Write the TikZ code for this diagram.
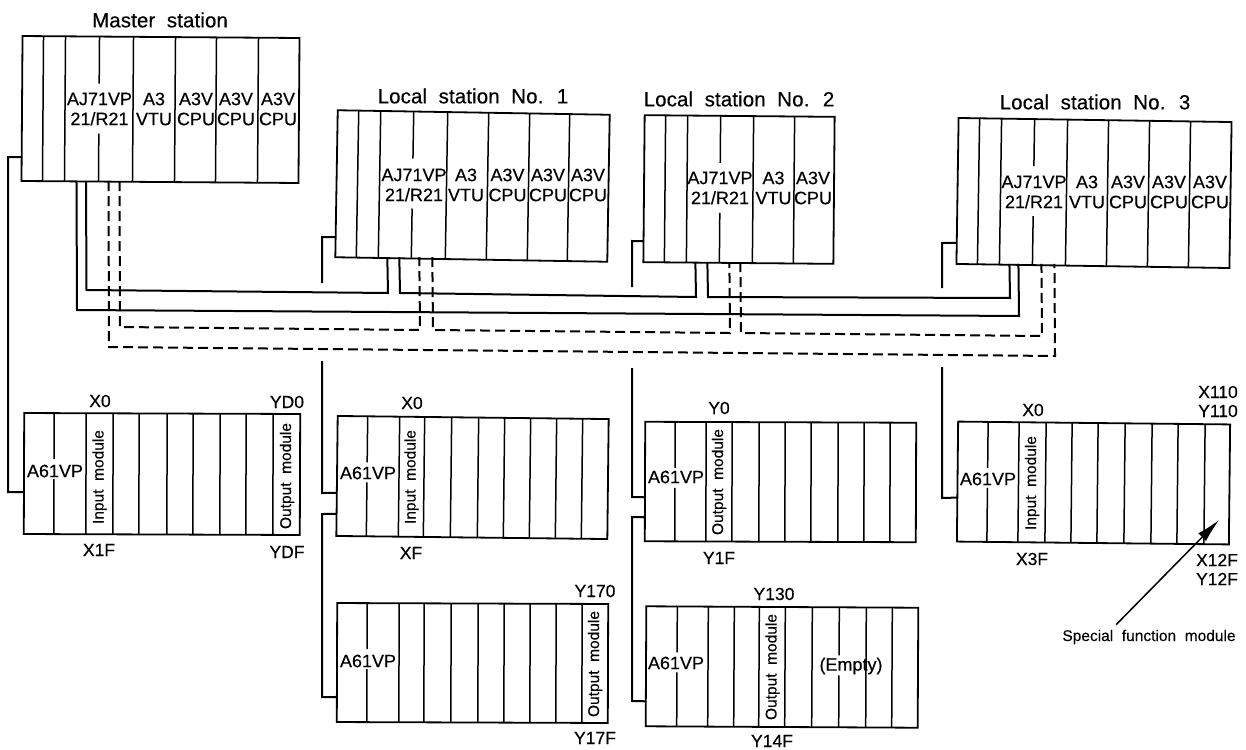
\documentclass[tikz,border=0pt]{standalone}
\usepackage{fontspec}
\usepackage{tikz}
\usetikzlibrary{arrows.meta, calc}
\setmainfont[FakeBold=0.35]{Liberation Sans}
\newfontfamily\titlefont[FakeBold=0.4,LetterSpace=0.5,WordSpace=2]{Liberation Sans}
\newfontfamily\modfont[FakeBold=0.3,WordSpace=2]{Liberation Sans}

\tikzset{
  rack/.style={draw, line width=1.8pt, inner sep=0pt, outer sep=0pt, minimum width=#1},
  slot/.style={line width=1.5pt},
  bus/.style={line width=2pt},
  busdash/.style={line width=2pt, dash pattern=on 10pt off 5pt},
  cardlbl/.style={font=\fontsize{18}{20}\selectfont, align=center, inner sep=0pt},
  addrlbl/.style={font=\fontsize{17.5}{19}\selectfont, align=center, inner sep=0pt},
  titlelbl/.style={font=\fontsize{20.5}{21}\titlefont, inner sep=0pt},
  modlbl/.style={font=\fontsize{15.5}{16}\modfont, rotate=90, inner sep=0pt}
}

\newcommand{\slots}[3][]{%
  \foreach \d in {#3} {
    \draw[slot,#1] ($(#2.north west)!\d pt!(#2.north east)$) -- ($(#2.south west)!\d pt!(#2.south east)$);
  }
}

\begin{document}
\begin{tikzpicture}[x=1pt, y=-1pt]
\useasboundingbox (0,0) rectangle (1246,749);

% Upper racks
\node[rack=277pt, minimum height=145pt, rotate=-0.41] (master) at (160.5,109.5) {};
\node[rack=272pt, minimum height=147pt, rotate=-0.95] (local1) at (472.5,186) {};
\node[rack=190pt, minimum height=147pt, rotate=-0.5] (local2) at (739,189.5) {};
\node[rack=273pt, minimum height=146pt, rotate=-0.85] (local3) at (1094,193) {};

\slots{master}{21,43,111,153,194,236}
\slots{local1}{21,43,110,151,192,232}
\slots{local2}{21,43,109,150}
\slots{local3}{21,43,109,150,191,232}
\foreach \r/\o in {master/77, local1/76, local2/76, local3/76} {
  \slots[dash pattern=on 47pt off 50pt on 70pt]{\r}{\o}
}

\node[titlelbl] (tmaster) at (160,20) {Master station};
\node[titlelbl] (tlocal1) at (473,96) {Local station No. 1};
\node[titlelbl] (tlocal2) at (739,99) {Local station No. 2};
\node[titlelbl] (tlocal3) at (1095,102) {Local station No. 3};

% Upper rack cards
\node[cardlbl] (ajm) at (99.5,109) {AJ71VP\\21/R21};
\node[cardlbl] (vtum) at (154,109) {A3\\VTU};
\foreach \x/\n in {196/a,236/b,278/c} {
  \node[cardlbl] (cpum\n) at (\x,109) {A3V\\CPU};
}
\node[cardlbl] (aj1) at (414,185) {AJ71VP\\21/R21};
\node[cardlbl] (vtu1) at (466,185) {A3\\VTU};
\foreach \x/\n in {507.5/a,548/b,588/c} {
  \node[cardlbl] (cpu1\n) at (\x,185) {A3V\\CPU};
}
\node[cardlbl] (aj2) at (720,188) {AJ71VP\\21/R21};
\node[cardlbl] (vtu2) at (773.5,188) {A3\\VTU};
\node[cardlbl] (cpu2a) at (813,188) {A3V\\CPU};
\node[cardlbl] (aj3) at (1034,192) {AJ71VP\\21/R21};
\node[cardlbl] (vtu3) at (1087,192) {A3\\VTU};
\foreach \x/\n in {1128/a,1169/b,1210/c} {
  \node[cardlbl] (cpu3\n) at (\x,192) {A3V\\CPU};
}

% Lower racks
\node[rack=276pt, minimum height=121pt, rotate=-0.2] (iom) at (162,474) {};
\node[rack=271pt, minimum height=120pt, rotate=-0.65] (io1a) at (472.5,477.5) {};
\node[rack=271pt, minimum height=119pt, rotate=-0.2] (io1b) at (472.5,663) {};
\node[rack=271pt, minimum height=119.5pt, rotate=-0.2] (io2a) at (780.5,482) {};
\node[rack=272pt, minimum height=120pt, rotate=-0.3] (io2b) at (782,667) {};
\node[rack=272pt, minimum height=120pt, rotate=-0.6] (io3) at (1093.5,483) {};

\slots{iom}{62,89,115,143,169,196,222,249}
\slots{io1a}{62,87,114,141,167,193,219,245}
\slots{io1b}{62,87,114,141,167,193,219,245}
\slots{io2a}{61,87,114,140,166,193,219,245}
\slots{io2b}{62,88,113,139,166,220,246}
\slots{io3}{61,88,114,140,167,194,220,247}
\foreach \r/\o in {iom/30, io1a/30, io1b/30, io2a/30, io2b/31, io3/30} {
  \slots[dash pattern=on 46pt off 20pt on 70pt]{\r}{\o}
}
\slots[dash pattern=on 48pt off 20pt on 70pt]{io2b}{193}

\foreach \x/\y/\n in {55/471/m, 368/473/a, 368/661/b, 676/477/c, 676/663/d, 988/479/e} {
  \node[cardlbl] (vp\n) at (\x,\y) {A61VP};
}

\node[modlbl] (inm) at (99.5,477) {Input module};
\node[modlbl] (outm) at (287,476) {Output module};
\node[modlbl] (in1) at (411.5,477) {Input module};
\node[modlbl] (out1) at (595,664) {Output module};
\node[modlbl] (out2a) at (719,482) {Output module};
\node[modlbl] (out2b) at (772.5,667) {Output module};
\node[modlbl] (in3) at (1032,483) {Input module};
\node[cardlbl] (empty) at (851,666) {(Empty)};

% Addresses
\node[addrlbl] (am0) at (100,401) {X0};
\node[addrlbl] (am1) at (287,402) {YD0};
\node[addrlbl] (am2) at (99,550) {X1F};
\node[addrlbl] (am3) at (287,552) {YDF};
\node[addrlbl] (a10) at (412,403) {X0};
\node[addrlbl] (a11) at (411,553) {XF};
\node[addrlbl] (a12) at (595,591) {Y170};
\node[addrlbl] (a13) at (595,738) {Y17F};
\node[addrlbl] (a20) at (719,408) {Y0};
\node[addrlbl] (a21) at (719,558) {Y1F};
\node[addrlbl] (a22) at (774,594) {Y130};
\node[addrlbl] (a23) at (772,741) {Y14F};
\node[addrlbl] (a30) at (1033,410) {X0};
\node[addrlbl] (a31) at (1032,559) {X3F};
\node[addrlbl] (a32) at (1218,401.5) {X110\\Y110};
\node[addrlbl] (a33) at (1217,569.5) {X12F\\Y12F};

% Special function arrow
\node[inner sep=0pt, font=\fontsize{15.5}{16}\modfont] (special) at (1149,637) {Special function module};
\coordinate (spectip) at (1219,520);
\draw[line width=1.5pt, -{Latex[length=24pt,width=11pt]}] ($(special.north west)+(54,-5)$) -- (spectip);

% Solid data links
\draw[bus] ($(master.south west)+(64.5,0)$) -- (86.5,290) -- (388,293) -- ($(local1.south west)+(52,0)$);
\draw[bus] ($(master.south west)+(55,0)$) -- (77,310) -- (1019,316) -- ($(local3.south west)+(62,0)$);
\draw[bus] ($(local1.south west)+(64,0)$) -- (400,293) -- (696,297) -- ($(local2.south west)+(52,0)$);
\draw[bus] ($(local2.south west)+(64,0)$) -- (708,297) -- (1010,298) -- ($(local3.south west)+(53,0)$);

% Dashed data links
\draw[busdash] ($(master.south west)+(98,0)$) -- (120,327) -- (420,330) -- ($(local1.south west)+(84,0)$);
\draw[busdash] ($(master.south west)+(87,0)$) -- (109,347) -- (1055,356) -- ($(local3.south west)+(98,0)$);
\draw[busdash] ($(local1.south west)+(97,0)$) -- (433,330) -- (730,333) -- ($(local2.south west)+(86,0)$);
\draw[busdash] ($(local2.south west)+(97,0)$) -- (741,333) -- (1042,336) -- ($(local3.south west)+(85,0)$);

% Power stubs and extension cables
\coordinate (stub1) at (322,283);
\coordinate (stub2) at (632,287);
\coordinate (stub3) at (942,288);
\coordinate (drop1) at (322,361);
\coordinate (drop2) at (632,368);
\coordinate (drop3) at (942,367);
\draw[bus] ($(master.south west)+(0,-24)$) -- (8,157) -- (8,492) -- ($(iom.south west)+(0,-42)$);
\draw[bus] ($(local1.south west)+(0,-20)$) -- (322,237) -- (stub1);
\draw[bus] ($(local2.south west)+(0,-21)$) -- (632,241) -- (stub2);
\draw[bus] ($(local3.south west)+(0,-21)$) -- (942,243) -- (stub3);
\draw[bus] (drop1) -- (322,493) -- ($(io1a.south west)+(0,-43)$);
\draw[bus] (drop2) -- (632,497) -- ($(io2a.south west)+(0,-44)$);
\draw[bus] (drop3) -- (942,498) -- ($(io3.south west)+(0,-44)$);
\draw[bus] ($(io1a.south west)+(0,-22)$) -- (322,514) -- (322,697) -- ($(io1b.south west)+(0,-25)$);
\draw[bus] ($(io2a.south west)+(0,-24)$) -- (632,517) -- (632,701) -- ($(io2b.south west)+(0,-25)$);
\end{tikzpicture}
\end{document}
